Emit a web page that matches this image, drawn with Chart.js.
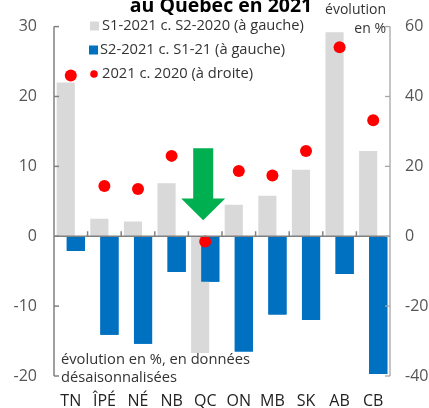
<!DOCTYPE html>
<html><head><meta charset="utf-8">
<script src="https://cdn.jsdelivr.net/npm/chart.js@4"></script>
<style>html,body{margin:0;padding:0;background:#fff;}canvas{display:block;}</style>
</head><body>
<canvas id="c" width="429" height="408"></canvas>
<script>
const categories = ['TN','ÎPÉ','NÉ','NB','QC','ON','MB','SK','AB','CB'];
const s1Values = [22.0, 2.5, 2.1, 7.6, -16.7, 4.5, 5.8, 9.5, 29.2, 12.2];
const s2Values = [-2.1, -14.1, -15.4, -5.1, -6.5, -16.5, -11.2, -12.0, -5.4, -19.7];
const annualValues = [46.0, 14.4, 13.5, 23.0, -1.5, 18.7, 17.4, 24.4, 54.1, 33.2];
const seriesLabels = ['S1-2021 c. S2-2020 (à gauche)', 'S2-2021 c. S1-21 (à gauche)', '2021 c. 2020 (à droite)'];
const leftTicks = [-20, -10, 0, 10, 20, 30];
const rightTicks = [-40, -20, 0, 20, 40, 60];
const titleText = 'au Québec en 2021';
const rightAxisTitle = ['évolution', 'en %'];
const noteText = ['évolution en %, en données', 'désaisonnalisées'];
const arrowCategory = 'QC';
const arrowFrom = 12.6, arrowHeadStart = 5.4, arrowTo = 2.3;

const FONT = '"Open Sans", "Noto Sans", sans-serif';
const GRAY = '#d9d9d9', BLUE = '#0070c0', RED = '#ff0000', GREEN = '#00b050';

const decor = {
  id: 'decor',
  afterDatasetDraw(chart, args) {
    // keep the second (blue) series above the first (grey) where they overlap
    if (args.index === 0) {
      const meta = chart.getDatasetMeta(1);
      const ctx = chart.ctx, ca = chart.chartArea;
      ctx.save();
      ctx.beginPath(); ctx.rect(ca.left, ca.top, ca.right - ca.left, ca.bottom - ca.top); ctx.clip();
      meta.data.forEach(el => el.draw(ctx, ca));
      ctx.restore();
    }
  },
  afterDatasetsDraw(chart) {
    const ctx = chart.ctx, ca = chart.chartArea;
    const y = chart.scales.y, y1 = chart.scales.y1, x = chart.scales.x;
    ctx.save();
    // left axis
    ctx.strokeStyle = '#808080'; ctx.lineWidth = 1.5;
    ctx.beginPath(); ctx.moveTo(ca.left, ca.top); ctx.lineTo(ca.left, ca.bottom); ctx.stroke();
    leftTicks.forEach(v => { const p = y.getPixelForValue(v); ctx.beginPath(); ctx.moveTo(ca.left, p); ctx.lineTo(ca.left + 5, p); ctx.stroke(); });
    // zero line
    const z = y.getPixelForValue(0);
    ctx.beginPath(); ctx.moveTo(ca.left, z); ctx.lineTo(ca.right, z); ctx.stroke();
    for (let i = 1; i < categories.length; i++) {
      const px = (x.getPixelForValue(i - 1) + x.getPixelForValue(i)) / 2;
      ctx.beginPath(); ctx.moveTo(px, z); ctx.lineTo(px, z - 5); ctx.stroke();
    }
    // right axis
    ctx.strokeStyle = '#a6a6a6'; ctx.lineWidth = 1.3;
    ctx.beginPath(); ctx.moveTo(ca.right, ca.top); ctx.lineTo(ca.right, ca.bottom); ctx.stroke();
    rightTicks.forEach(v => { const p = y1.getPixelForValue(v); ctx.beginPath(); ctx.moveTo(ca.right, p); ctx.lineTo(ca.right - 5, p); ctx.stroke(); });

    // green arrow
    const ax = x.getPixelForValue(categories.indexOf(arrowCategory)) - 2;
    const aTop = y.getPixelForValue(arrowFrom), aHead = y.getPixelForValue(arrowHeadStart), aTip = y.getPixelForValue(arrowTo);
    ctx.fillStyle = GREEN;
    ctx.beginPath();
    ctx.moveTo(ax - 10, aTop); ctx.lineTo(ax + 10, aTop); ctx.lineTo(ax + 10, aHead);
    ctx.lineTo(ax + 22, aHead); ctx.lineTo(ax, aTip); ctx.lineTo(ax - 22, aHead);
    ctx.lineTo(ax - 10, aHead); ctx.closePath(); ctx.fill();

    // title
    ctx.fillStyle = '#000';
    ctx.font = 'bold 19.5px ' + FONT;
    ctx.textAlign = 'center'; ctx.textBaseline = 'alphabetic';
    ctx.fillText(titleText, 221, 12);

    // right axis title
    ctx.fillStyle = '#333';
    ctx.font = '14px ' + FONT;
    ctx.textAlign = 'right'; ctx.textBaseline = 'middle';
    ctx.fillText(rightAxisTitle[0], 386, 10);
    ctx.fillText(rightAxisTitle[1], 386, 29);

    // note
    ctx.font = '14.7px ' + FONT;
    ctx.textAlign = 'left';
    ctx.fillText(noteText[0], 61, 360);
    ctx.fillText(noteText[1], 61, 378);

    // legend
    const colors = [GRAY, BLUE, RED];
    const ys = [26, 50, 74];
    for (let i = 0; i < 3; i++) {
      ctx.fillStyle = colors[i];
      if (i === 2) { ctx.beginPath(); ctx.arc(94, ys[i], 3.8, 0, Math.PI * 2); ctx.fill(); }
      else ctx.fillRect(i === 0 ? 90 : 89, ys[i] - 4.5, 9, 9);
      ctx.fillStyle = '#333';
      ctx.fillText(seriesLabels[i], i === 1 ? 100 : 102, ys[i]);
    }
    ctx.restore();
  }
};

new Chart(document.getElementById('c'), {
  type: 'bar',
  data: {
    labels: categories,
    datasets: [
      { label: seriesLabels[0], data: s1Values, backgroundColor: GRAY, yAxisID: 'y', order: 1,
        categoryPercentage: 0.6, barPercentage: 1.8 },
      { label: seriesLabels[1], data: s2Values, backgroundColor: BLUE, yAxisID: 'y', order: 2,
        categoryPercentage: 0.6, barPercentage: 1.8 },
      { type: 'line', label: seriesLabels[2], data: annualValues, yAxisID: 'y1', order: 0,
        showLine: false, pointRadius: 6, pointHoverRadius: 6, pointBackgroundColor: RED, pointBorderWidth: 0,
        borderColor: RED, backgroundColor: RED }
    ]
  },
  options: {
    responsive: false, devicePixelRatio: 1, animation: false,
    layout: { padding: { top: 24, left: 0, right: 0, bottom: 0 } },
    plugins: { legend: { display: false }, tooltip: { enabled: false }, title: { display: false } },
    scales: {
      x: {
        grid: { display: false, drawTicks: false }, border: { display: false },
        ticks: { color: '#222', font: { family: FONT, size: 16 }, padding: 16, maxRotation: 0, autoSkip: false },
        afterFit: s => { s.height = 32; }
      },
      y: {
        position: 'left', min: -20, max: 30,
        grid: { display: false, drawTicks: false }, border: { display: false },
        ticks: { stepSize: 10, color: '#555', font: { family: FONT, size: 16 }, padding: 17 },
        afterFit: s => { s.width = 54; }
      },
      y1: {
        position: 'right', min: -40, max: 60,
        grid: { display: false, drawTicks: false }, border: { display: false },
        ticks: { stepSize: 20, color: '#555', font: { family: FONT, size: 16 }, padding: 15 },
        afterFit: s => { s.width = 39; }
      }
    }
  },
  plugins: [decor]
});
</script>
</body></html>
